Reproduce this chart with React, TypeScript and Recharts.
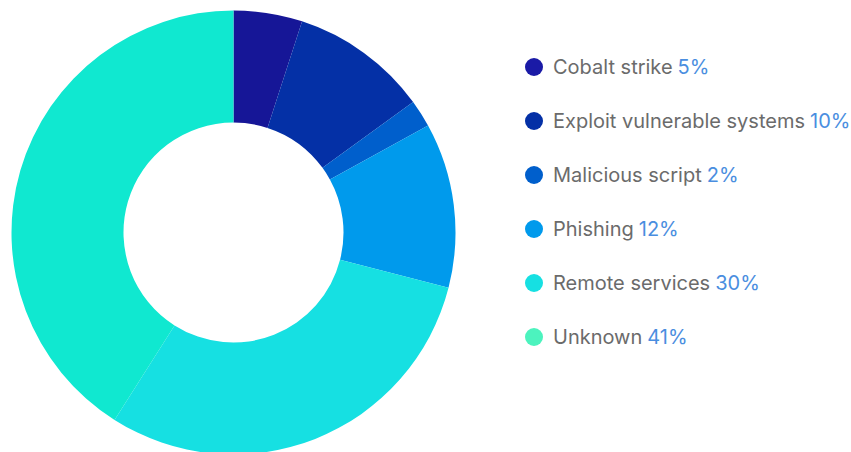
import { PieChart, Pie, Cell } from 'recharts'

const categories = [
  'Cobalt strike',
  'Exploit vulnerable systems',
  'Malicious script',
  'Phishing',
  'Remote services',
  'Unknown',
]
const shares = [5, 10, 2, 12, 30, 41]

const SLICE_COLORS = ['#161697', '#0430A6', '#005FCC', '#009AEC', '#16E0E2', '#10E8D0']
const DOT_COLORS = ['#1A1AA6', '#0430A6', '#005FCC', '#009AEC', '#16E0E2', '#4CF3BE']

const rows = categories.map((name, i) => ({ name, value: shares[i] }))

export default function App() {
  return (
    <div
      style={{
        position: 'absolute',
        left: 0,
        top: 0,
        width: 851,
        height: 452,
        background: '#fff',
        fontFamily: 'Inter, "Noto Sans", sans-serif',
      }}
    >
      <div style={{ position: 'absolute', left: 0, top: 0 }}>
        <PieChart width={470} height={452} margin={{ top: 0, right: 0, bottom: 0, left: 0 }}>
          <Pie
            data={rows}
            dataKey="value"
            nameKey="name"
            cx={233.5}
            cy={232.5}
            innerRadius={110}
            outerRadius={222}
            startAngle={90}
            endAngle={-270}
            stroke="none"
            isAnimationActive={false}
          >
            {rows.map((_, i) => (
              <Cell key={i} fill={SLICE_COLORS[i]} />
            ))}
          </Pie>
        </PieChart>
      </div>

      {/* Legend */}
      {rows.map((row, i) => (
        <div
          key={row.name}
          style={{
            position: 'absolute',
            left: 525,
            top: 67 + i * 54 - 12,
            height: 24,
            display: 'flex',
            alignItems: 'center',
            whiteSpace: 'nowrap',
          }}
        >
          <span
            style={{
              width: 18,
              height: 18,
              borderRadius: '50%',
              background: DOT_COLORS[i],
              display: 'inline-block',
              marginRight: 10,
            }}
          />
          <span style={{ fontSize: 20, color: '#6b6b6b' }}>{row.name}</span>
          <span style={{ fontSize: 20, color: '#4a8ee0', marginLeft: 5 }}>{row.value}%</span>
        </div>
      ))}
    </div>
  )
}
